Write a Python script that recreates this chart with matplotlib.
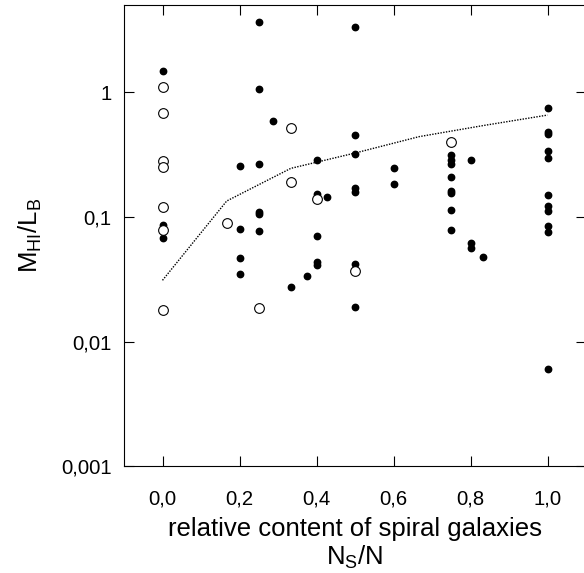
import matplotlib
matplotlib.use('Agg')
import matplotlib.pyplot as plt
from matplotlib.ticker import FixedLocator, NullLocator

plt.rcParams['font.family'] = ['Liberation Sans', 'DejaVu Sans']
plt.rcParams['mathtext.default'] = 'regular'

# filled dots: fraction of spirals vs M_HI/L_B
filled_x = [0, 0, 0,
            0.2, 0.2, 0.2, 0.2,
            0.25, 0.25, 0.25, 0.25, 0.25, 0.25,
            0.286, 0.333, 0.375,
            0.4, 0.4, 0.4, 0.4, 0.4,
            0.428,
            0.5, 0.5, 0.5, 0.5, 0.5, 0.5, 0.5,
            0.6, 0.6,
            0.75, 0.75, 0.75, 0.75, 0.75, 0.75, 0.75, 0.75,
            0.8, 0.8, 0.8, 0.833,
            1.0, 1.0, 1.0, 1.0, 1.0, 1.0, 1.0, 1.0, 1.0, 1.0, 1.0]
filled_y = [1.49, 0.086, 0.0675,
            0.258, 0.080, 0.0472, 0.0351,
            3.64, 1.06, 0.265, 0.109, 0.106, 0.077,
            0.586, 0.0273, 0.0334,
            0.285, 0.153, 0.0697, 0.0436, 0.041,
            0.145,
            3.34, 0.452, 0.32, 0.169, 0.158, 0.0418, 0.019,
            0.247, 0.183,
            0.316, 0.284, 0.266, 0.208, 0.16, 0.155, 0.114, 0.078,
            0.287, 0.0612, 0.0565, 0.048,
            0.74, 0.48, 0.465, 0.336, 0.296, 0.151, 0.123, 0.112, 0.0838, 0.0754, 0.00608]

# open circles
open_x = [0, 0, 0, 0, 0, 0, 0, 0.1667, 0.25, 0.333, 0.333, 0.4, 0.5, 0.75]
open_y = [1.10, 0.679, 0.28, 0.25, 0.12, 0.078, 0.0178, 0.0897, 0.0185,
          0.518, 0.191, 0.138, 0.0365, 0.402]

# dotted model curve
curve_x = [0, 1/6, 1/3, 0.5, 2/3, 5/6, 1.0]
curve_y = [0.031, 0.134, 0.245, 0.325, 0.44, 0.54, 0.655]

xticks = [0.0, 0.2, 0.4, 0.6, 0.8, 1.0]
xticklabels = ['0,0', '0,2', '0,4', '0,6', '0,8', '1,0']
yticks = [0.001, 0.01, 0.1, 1]
yticklabels = ['0,001', '0,01', '0,1', '1']

fig = plt.figure(figsize=(5.84, 5.73), dpi=100)
ax = fig.add_axes([124/584, 1 - 466.3/573, 462/584, 461.3/573])

ax.plot(curve_x, curve_y, color='black', linestyle=(0, (1, 1)), linewidth=1.0)
ax.plot(filled_x, filled_y, 'o', color='black', markersize=4.6, linestyle='none')
ax.plot(open_x, open_y, 'o', markerfacecolor='white', markeredgecolor='black',
        markeredgewidth=0.8, markersize=7, linestyle='none')

ax.set_yscale('log')
ax.set_xlim(-0.1, 1.1)
ax.set_ylim(0.001, 5.0)

ax.xaxis.set_major_locator(FixedLocator(xticks))
ax.set_xticklabels(xticklabels)
ax.yaxis.set_major_locator(FixedLocator(yticks))
ax.yaxis.set_minor_locator(NullLocator())
ax.set_yticklabels(yticklabels)

ax.tick_params(direction='in', length=7, width=0.8, top=True, right=True,
               labelsize=14.6)
ax.tick_params(axis='x', pad=17)
ax.tick_params(axis='y', pad=9)

ax.set_xlabel('relative content of spiral galaxies\nN$_S$/N', fontsize=18.5,
              linespacing=1.1, labelpad=6)
ax.set_ylabel('M$_{HI}$/L$_B$', fontsize=18.5, labelpad=12)

fig.savefig('out.png', dpi=100)
